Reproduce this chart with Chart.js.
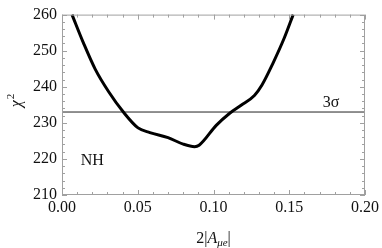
<!DOCTYPE html>
<html><head><meta charset="utf-8">
<script src="https://cdn.jsdelivr.net/npm/chart.js@4"></script>
<style>html,body{margin:0;padding:0;background:#fff}#wrap{width:382px;height:248px}</style>
</head><body><div id="wrap"><canvas id="c" width="382" height="248"></canvas></div>
<script>
const curveX = [0.0066,0.0142,0.0219,0.0307,0.0405,0.0502,0.058,0.070,0.080,0.0875,0.0905,0.1018,0.1105,0.118,0.127,0.132,0.139,0.1467,0.1526];
const curveY = [260,252.1,244.9,238.7,233.0,228.6,227.3,225.9,224.1,223.4,223.8,229.3,232.6,234.8,237.6,240.5,246.3,253.5,260];
const sigmaLevel = 233;
const xTicks = [0,0.05,0.10,0.15,0.20];
const yTicks = [210,220,230,240,250,260];
const labels = {nh:{x:0.02,y:219.4,text:'NH'}, sig:{x:0.1776,y:235.5,text:'3σ'}};

const FONT = '"Liberation Serif", "DejaVu Serif", serif';

const decor = {
  id:'decor',
  afterDatasetsDraw(chart){
    const {ctx, chartArea:a, scales:{x,y}} = chart;
    ctx.save();
    ctx.strokeStyle='#a0a0a0'; ctx.lineWidth=1;
    ctx.strokeRect(a.left+0.5,a.top+0.5,a.right-a.left-1,a.bottom-a.top-1);
    for(let i=0;i<=20;i++){
      const v=i*0.01, px=Math.round(x.getPixelForValue(v))+0.5, L=(i%5===0)?5:3;
      ctx.beginPath();ctx.moveTo(px,a.bottom);ctx.lineTo(px,a.bottom-L);
      ctx.moveTo(px,a.top);ctx.lineTo(px,a.top+L);ctx.stroke();
    }
    for(let i=0;i<=25;i++){
      const v=210+i*2, py=Math.round(y.getPixelForValue(v))+0.5, L=(i%5===0)?5:3;
      ctx.beginPath();ctx.moveTo(a.left,py);ctx.lineTo(a.left+L,py);
      ctx.moveTo(a.right,py);ctx.lineTo(a.right-L,py);ctx.stroke();
    }
    ctx.fillStyle='#111';
    ctx.textAlign='center';ctx.textBaseline='middle';
    ctx.font='16px '+FONT;
    ctx.fillText(labels.nh.text, x.getPixelForValue(labels.nh.x), y.getPixelForValue(labels.nh.y));
    ctx.fillText(labels.sig.text, x.getPixelForValue(labels.sig.x), y.getPixelForValue(labels.sig.y));
    const cx=(a.left+a.right)/2, ty=238;
    ctx.textAlign='left';ctx.textBaseline='alphabetic';
    const p1='2|', p2='A', p3='μe', p4='|';
    ctx.font='16px '+FONT; const w1=ctx.measureText(p1).width;
    ctx.font='italic 16px '+FONT; const w2=ctx.measureText(p2).width;
    ctx.font='italic 11px '+FONT; const w3=ctx.measureText(p3).width;
    ctx.font='16px '+FONT; const w4=ctx.measureText(p4).width;
    let sx=cx-(w1+w2+w3+w4)/2;
    ctx.font='16px '+FONT; ctx.fillText(p1,sx,ty+5); sx+=w1;
    ctx.font='italic 16px '+FONT; ctx.fillText(p2,sx,ty+5); sx+=w2;
    ctx.font='italic 11px '+FONT; ctx.fillText(p3,sx,ty+8); sx+=w3;
    ctx.font='16px '+FONT; ctx.fillText(p4,sx,ty+5);
    ctx.translate(16,(a.top+a.bottom)/2-4);
    ctx.rotate(-Math.PI/2);
    ctx.font='italic 16px '+FONT; const wc=ctx.measureText('χ').width;
    ctx.fillText('χ',-wc/2-3,5);
    ctx.font='11px '+FONT; ctx.fillText('2',wc/2-2,-2);
    ctx.restore();
  }
};

new Chart(document.getElementById('c'),{
  type:'line',
  data:{datasets:[
    {data:curveX.map((v,i)=>({x:v,y:curveY[i]})),borderColor:'#000',borderWidth:3,pointRadius:0,cubicInterpolationMode:'monotone',clip:false},
    {data:[{x:0,y:sigmaLevel},{x:0.2,y:sigmaLevel}],borderColor:'#222',borderWidth:1,pointRadius:0}
  ]},
  options:{
    responsive:false,animation:false,
    layout:{padding:{left:0,right:16,top:9,bottom:0}},
    plugins:{legend:{display:false},tooltip:{enabled:false}},
    scales:{
      x:{type:'linear',min:0,max:0.2,
        afterBuildTicks(s){s.ticks=xTicks.map(v=>({value:v}));},
        afterFit(s){s.height=53;},
        grid:{display:false,drawTicks:false},border:{display:false},
        ticks:{padding:3,color:'#111',font:{family:FONT,size:16},maxRotation:0,callback:v=>v.toFixed(2)}},
      y:{type:'linear',min:210,max:260,
        afterBuildTicks(s){s.ticks=yTicks.map(v=>({value:v}));},
        afterFit(s){s.width=62;},
        grid:{display:false,drawTicks:false},border:{display:false},
        ticks:{padding:5,color:'#111',font:{family:FONT,size:16},callback:v=>String(v)}}
    }
  },
  plugins:[decor]
});
</script></body></html>
